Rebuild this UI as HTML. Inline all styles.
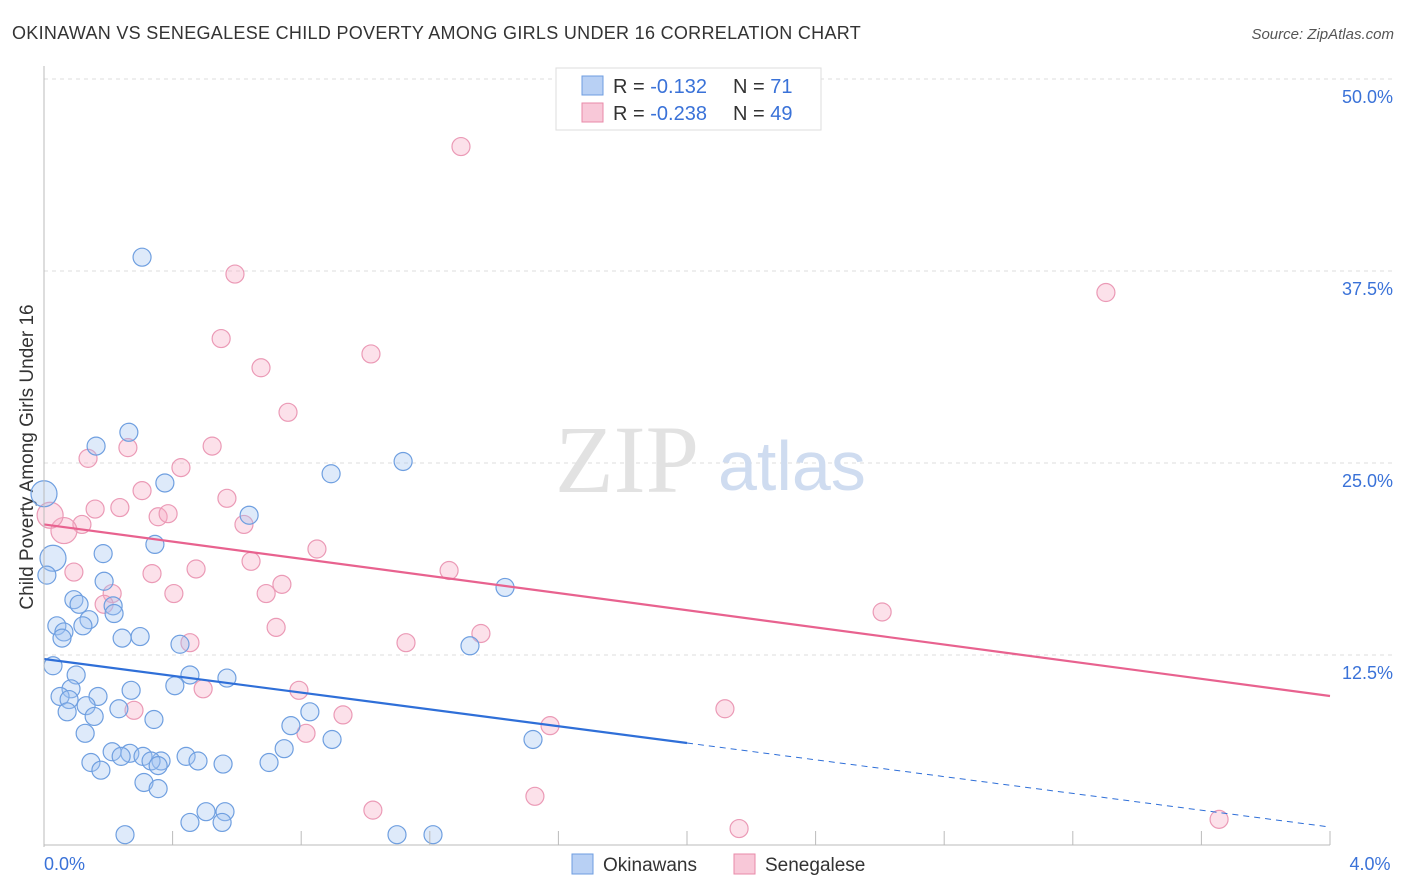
<!DOCTYPE html>
<html><head><meta charset="utf-8">
<style>
body{margin:0;background:#fff;font-family:"Liberation Sans",sans-serif;}
svg{display:block}
</style></head>
<body>
<svg id="chart" width="1406" height="892">
<text x="12" y="39" font-size="18" fill="#333" letter-spacing="0.3">OKINAWAN VS SENEGALESE CHILD POVERTY AMONG GIRLS UNDER 16 CORRELATION CHART</text>
<text x="1394" y="39" font-size="15" fill="#555" font-style="italic" text-anchor="end">Source: ZipAtlas.com</text>
<text transform="translate(33,457) rotate(-90)" font-size="19" fill="#333" text-anchor="middle">Child Poverty Among Girls Under 16</text>
<g id="grid"></g>
<text x="555" y="492" font-size="96" fill="#e2e2e2" font-family="Liberation Serif,serif">ZIP</text>
<text x="718" y="490" font-size="70" fill="#cfdcf0">atlas</text>
<g id="marks"></g>
<g id="trends"></g>
<g id="axes"></g>
<g>
<rect x="556" y="68" width="265" height="62" fill="#fff" stroke="#ddd"/>
<rect x="582" y="76" width="21" height="19" fill="#b8d0f4" stroke="#6e9de0"/>
<rect x="582" y="103" width="21" height="19" fill="#f8c8d8" stroke="#e88aa8"/>
<text x="613" y="93" font-size="20" fill="#333">R = <tspan fill="#3a72d8">-0.132</tspan><tspan x="733">N = </tspan><tspan fill="#3a72d8">71</tspan></text>
<text x="613" y="120" font-size="20" fill="#333">R = <tspan fill="#3a72d8">-0.238</tspan><tspan x="733">N = </tspan><tspan fill="#3a72d8">49</tspan></text>
</g>
<g>
<rect x="572" y="854" width="21" height="20" fill="#b8d0f4" stroke="#6e9de0"/>
<text x="603" y="871" font-size="19" fill="#333">Okinawans</text>
<rect x="734" y="854" width="21" height="20" fill="#f8c8d8" stroke="#e88aa8"/>
<text x="765" y="871" font-size="19" fill="#333">Senegalese</text>
</g>
</svg>
<script>
const xTicks=[0,4];
const xTickLabels=["0.0%","4.0%"];
const yTicks=[12.5,25,37.5,50];
const yTickLabels=["12.5%","25.0%","37.5%","50.0%"];
const blueX=[0.305,0.264,0.162,0.376,0.893,1.117,0.638,0.345,0.184,0.187,0.215,0.093,0.109,0.218,0.140,0.121,0.040,0.062,0.056,0.243,0.299,0.423,1.325,1.434,0.028,0.100,0.454,0.569,0.407,0.271,0.168,0.084,0.050,0.078,0.131,0.233,0.072,0.156,0.342,0.768,0.827,0.896,1.521,0.128,0.212,0.267,0.308,0.364,0.240,0.333,0.146,0.442,0.479,0.557,0.700,0.747,0.177,0.355,0.311,0.355,0.504,0.563,0.454,0.554,0.252,1.098,1.210,0.028,0.009,0.0];
const blueY=[38.4,27.0,26.1,23.7,24.3,25.1,21.6,19.7,19.1,17.3,15.7,16.1,15.8,15.2,14.8,14.4,14.4,14.0,13.6,13.6,13.7,13.2,13.1,16.9,11.8,11.2,11.2,11.0,10.5,10.2,9.8,10.3,9.8,9.6,9.2,9.0,8.8,8.5,8.3,7.9,8.8,7.0,7.0,7.4,6.2,6.1,5.9,5.6,5.9,5.6,5.5,5.9,5.6,5.4,5.5,6.4,5.0,5.3,4.2,3.8,2.3,2.3,1.6,1.6,0.8,0.8,0.8,18.8,17.7,23.0];
const blueBig=[67,69];
const pinkX=[1.297,0.594,3.303,0.551,1.017,0.675,0.759,0.523,0.261,0.137,0.426,0.305,0.569,0.236,0.159,0.355,0.386,0.622,0.118,0.062,0.019,0.849,0.644,0.473,0.336,0.093,1.260,0.740,0.691,0.404,0.212,0.187,0.454,0.722,1.359,1.126,2.607,0.495,0.793,0.930,0.280,0.815,1.574,2.118,1.023,1.527,2.162,3.655];
const pinkY=[45.6,37.3,36.1,33.1,32.1,31.2,28.3,26.1,26.0,25.3,24.7,23.2,22.7,22.1,22.0,21.5,21.7,21.0,21.0,20.6,21.6,19.4,18.6,18.1,17.8,17.9,18.0,17.1,16.5,16.5,16.5,15.8,13.3,14.3,13.9,13.3,15.3,10.3,10.2,8.6,8.9,7.4,7.9,9.0,2.4,3.3,1.2,1.8];
const pinkBig=[19,20];
const blueTrend=[12.24,1.30];
const blueSolidEnd=2.0;
const pinkTrend=[21.0,9.83];

const NS="http://www.w3.org/2000/svg";
const X0=44,X1=1330,Y0=847,Y50=79;
const sx=v=>X0+(v-0)/4*(X1-X0);
const sy=v=>Y0-(v/50)*(Y0-Y50);
function mk(tag,attrs,parent){const e=document.createElementNS(NS,tag);for(const k in attrs)e.setAttribute(k,attrs[k]);parent.appendChild(e);return e;}
const grid=document.getElementById('grid'),axes=document.getElementById('axes'),marks=document.getElementById('marks'),trends=document.getElementById('trends');
yTicks.forEach((t,i)=>{
  const l=mk('line',{x1:X0,x2:1394,y1:sy(t),y2:sy(t),stroke:'#ddd','stroke-dasharray':'4,4'},grid);
  
  
  const tx=mk('text',{x:1393,y:sy(t)+24,'font-size':18,fill:'#3a72d8','text-anchor':'end'},axes);
  tx.textContent=yTickLabels[i];
  
  
});
let a=mk('line',{x1:X0,x2:X0,y1:66,y2:Y0,stroke:'#bbb'},axes);


a=mk('line',{x1:X0,x2:X1,y1:Y0-2,y2:Y0-2,stroke:'#bbb'},axes);


for(let i=1;i<=10;i++){const x=X0+i*(X1-X0)/10;const t=mk('line',{x1:x,x2:x,y1:Y0-2,y2:Y0-16,stroke:'#bbb'},axes);

}
xTicks.forEach((t,i)=>{const tx=mk('text',{x:sx(t),y:870,'font-size':18,fill:'#3a72d8','text-anchor':i==0?'start':'middle'},axes);
tx.textContent=xTickLabels[i];
if(i==1)tx.setAttribute('x',1370);

});
pinkX.forEach((v,i)=>{const c=mk('circle',{cx:sx(v),cy:sy(pinkY[i]),r:pinkBig.includes(i)?13:9,fill:'rgba(245,170,195,0.35)',stroke:'#eb9ab6','stroke-width':1.2},marks);

});
blueX.forEach((v,i)=>{const c=mk('circle',{cx:sx(v),cy:sy(blueY[i]),r:blueBig.includes(i)?13:9,fill:'rgba(160,195,240,0.35)',stroke:'#6f9fe0','stroke-width':1.2},marks);

});
const by=x=>blueTrend[0]+(blueTrend[1]-blueTrend[0])*x/4;
let t=mk('line',{x1:sx(0),y1:sy(by(0)),x2:sx(blueSolidEnd),y2:sy(by(blueSolidEnd)),stroke:'#2f6fd8','stroke-width':2.2},trends);


t=mk('line',{x1:sx(blueSolidEnd),y1:sy(by(blueSolidEnd)),x2:sx(4),y2:sy(by(4)),stroke:'#2f6fd8','stroke-width':1,'stroke-dasharray':'6,5'},trends);


t=mk('line',{x1:sx(0),y1:sy(pinkTrend[0]),x2:sx(4),y2:sy(pinkTrend[1]),stroke:'#e8628f','stroke-width':2.2},trends);


</script>
</body></html>
